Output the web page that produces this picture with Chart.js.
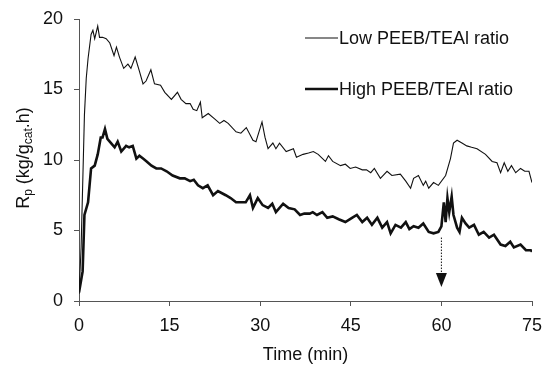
<!DOCTYPE html>
<html>
<head>
<meta charset="utf-8">
<script src="https://cdn.jsdelivr.net/npm/chart.js@4.4.0/dist/chart.umd.min.js"></script>
<style>
  html, body { margin: 0; padding: 0; background: #fff; overflow: hidden; }
  #wrap { width: 543px; height: 366px; }
  canvas { display: block; }
</style>
</head>
<body>
<div id="wrap"><canvas id="rpChart"></canvas></div>
<script>
// time (min) and Rp values
const lowTime = [0, 0.35, 0.9, 1.2, 1.5, 2.0, 2.3, 2.6, 3.1, 3.4, 3.9, 4.5, 5.1, 5.8, 6.2, 6.7, 7.4, 8.1, 8.6, 9.3,
  10.0, 10.6, 11.1, 11.9, 12.5, 13.5, 14.2, 15.3, 16.3, 16.9, 17.7, 18.4, 18.9, 19.5, 20.1, 20.4, 21.4, 22.5, 23.3, 24.0,
  24.7, 26.0, 26.8, 27.7, 28.8, 29.3, 30.3, 30.8, 31.3, 32.1, 32.6, 33.2, 34.3, 35.5, 36.0, 37.1, 38.0, 38.8, 39.6, 40.8,
  41.3, 42.0, 43.3, 44.1, 44.9, 45.8, 46.9, 47.6, 48.3, 48.9, 49.9, 51.0, 51.8, 53.2, 54.1, 54.9, 55.4, 56.2, 57.0, 57.4,
  57.9, 58.7, 59.5, 60.7, 61.5, 62.0, 62.6, 63.4, 64.2, 65.0, 65.9, 67.3, 68.4, 69.2, 69.8, 70.4, 71.0, 71.6, 72.3, 73.1,
  73.8, 74.5, 75.0];
const lowRp = [0.5, 3.8, 13.2, 15.8, 17.2, 18.9, 19.2, 18.6, 19.5, 18.7, 18.7, 18.6, 18.3, 17.4, 18.0, 17.3, 16.5, 16.8, 16.5, 17.3,
  16.3, 15.4, 15.6, 16.4, 15.4, 15.3, 14.8, 14.3, 14.8, 14.3, 14.0, 14.0, 13.6, 13.5, 14.1, 13.0, 13.3, 12.9, 12.6, 12.8,
  12.6, 12.0, 11.9, 12.3, 11.4, 11.3, 12.7, 11.6, 10.8, 11.2, 10.8, 11.2, 10.6, 10.8, 10.2, 10.4, 10.5, 10.6, 10.4, 9.9,
  10.3, 9.9, 9.6, 9.7, 9.4, 9.5, 9.3, 9.3, 9.1, 9.4, 8.7, 9.2, 8.9, 9.0, 8.5, 8.0, 8.7, 8.9, 8.2, 8.5,
  8.0, 8.4, 8.2, 8.9, 10.1, 11.2, 11.4, 11.2, 11.0, 10.9, 10.8, 10.4, 9.9, 9.8, 9.1, 9.8, 9.2, 9.6, 9.1, 9.4,
  9.2, 9.2, 8.4];

const highTime = [0, 0.6, 0.9, 1.5, 2.0, 2.6, 3.1, 3.6, 3.9, 4.3, 4.7, 5.3, 5.9, 6.4, 7.0, 7.8, 8.3, 8.9, 9.5, 10.0,
  10.6, 11.2, 12.0, 12.8, 13.6, 14.5, 15.5, 16.7, 17.5, 18.4, 19.0, 19.7, 20.5, 21.3, 22.2, 23.0, 24.3, 25.1, 26.0, 26.8,
  27.6, 28.3, 28.8, 29.6, 30.4, 31.3, 32.0, 32.6, 33.8, 34.7, 35.7, 36.6, 37.3, 38.2, 38.7, 39.4, 40.3, 41.1, 42.0, 43.0,
  44.1, 45.2, 46.0, 46.9, 47.7, 48.5, 49.4, 50.2, 51.0, 51.6, 52.4, 53.3, 54.1, 54.7, 55.4, 56.2, 57.0, 57.9, 58.7, 59.5,
  60.0, 60.4, 60.7, 61.0, 61.3, 61.7, 62.0, 62.6, 63.0, 63.4, 64.0, 64.6, 65.4, 66.2, 67.0, 67.9, 68.7, 69.8, 70.6, 71.4,
  72.0, 73.1, 74.0, 74.8, 75.0];
const highRp = [0.6, 2.1, 6.1, 7.0, 9.4, 9.6, 10.4, 11.6, 11.6, 12.2, 11.5, 11.2, 10.9, 11.3, 10.6, 11.0, 10.9, 11.0, 10.1, 10.3,
  10.1, 9.9, 9.6, 9.4, 9.4, 9.2, 8.9, 8.7, 8.7, 8.5, 8.6, 8.2, 8.0, 8.2, 7.5, 7.8, 7.5, 7.3, 7.0, 7.0,
  7.0, 7.5, 6.6, 7.3, 6.8, 6.6, 6.9, 6.3, 6.9, 6.6, 6.5, 6.1, 6.2, 6.2, 6.3, 6.1, 6.3, 5.9, 6.0, 5.8,
  5.6, 5.9, 6.1, 5.6, 5.9, 5.4, 5.9, 5.2, 5.6, 4.8, 5.4, 5.2, 5.6, 5.1, 5.3, 5.2, 5.5, 4.9, 4.8, 4.9,
  5.3, 7.0, 5.6, 7.3, 6.3, 7.4, 6.1, 5.2, 4.9, 5.9, 5.5, 5.2, 5.4, 4.7, 4.9, 4.5, 4.7, 4.0, 3.9, 4.2,
  3.8, 4.0, 3.6, 3.6, 3.5];

const xTicks = [0, 15, 30, 45, 60, 75];
const yTicks = [0, 5, 10, 15, 20];

// arrow at the time the ratio was changed: x, top of dotted line, tip
const arrowTime = 60;
const arrowFrom = 4.5;
const arrowTo = 1.0;

const FONT = '"Liberation Sans", Arial, sans-serif';
const INK = '#111';

function toPoints(ts, vs) {
  return ts.map((t, i) => ({ x: t, y: vs[i] }));
}

// y title with subscripts, legend in top right, dotted arrow
const extras = {
  id: 'extras',
  afterDraw(chart) {
    const ctx = chart.ctx;
    const xs = chart.scales.x, ys = chart.scales.y;

    // arrow
    const ax = xs.getPixelForValue(arrowTime);
    const yTop = ys.getPixelForValue(arrowFrom);
    const yTip = ys.getPixelForValue(arrowTo);
    ctx.save();
    ctx.strokeStyle = INK;
    ctx.lineWidth = 1;
    ctx.setLineDash([1.5, 1.5]);
    ctx.beginPath();
    ctx.moveTo(ax, yTop);
    ctx.lineTo(ax, yTip - 12);
    ctx.stroke();
    ctx.setLineDash([]);
    ctx.fillStyle = INK;
    ctx.beginPath();
    ctx.moveTo(ax - 5.5, yTip - 14);
    ctx.lineTo(ax + 5.5, yTip - 14);
    ctx.lineTo(ax, yTip);
    ctx.closePath();
    ctx.fill();
    ctx.restore();

    // y axis title
    const parts = [['R', false], ['p', true], [' (kg/g', false], ['cat', true], ['.h)', false]];
    ctx.save();
    ctx.translate(28.5, (ys.top + ys.bottom) / 2 - 2);
    ctx.rotate(-Math.PI / 2);
    ctx.fillStyle = INK;
    ctx.textBaseline = 'alphabetic';
    let w = 0;
    parts.forEach(([s, sub]) => {
      ctx.font = (sub ? '12px ' : '18px ') + FONT;
      w += ctx.measureText(s).width;
    });
    let cx = -w / 2;
    parts.forEach(([s, sub]) => {
      ctx.font = (sub ? '12px ' : '18px ') + FONT;
      ctx.fillText(s, cx, sub ? 3.5 : 0);
      cx += ctx.measureText(s).width;
    });
    ctx.restore();

    // legend
    ctx.save();
    ctx.font = '18px ' + FONT;
    ctx.fillStyle = INK;
    ctx.textBaseline = 'middle';
    const rows = [38, 89];
    chart.data.datasets.forEach((ds, i) => {
      const y = rows[i];
      ctx.strokeStyle = ds.borderColor;
      ctx.lineWidth = ds.borderWidth;
      ctx.beginPath();
      ctx.moveTo(305, y);
      ctx.lineTo(338, y);
      ctx.stroke();
      ctx.fillText(ds.label, 339, y + 1);
    });
    ctx.restore();
  }
};

new Chart(document.getElementById('rpChart'), {
  type: 'line',
  data: {
    datasets: [
      {
        label: 'Low PEEB/TEAl ratio',
        data: toPoints(lowTime, lowRp),
        borderColor: INK,
        borderWidth: 1.1,
        pointRadius: 0,
        tension: 0
      },
      {
        label: 'High PEEB/TEAl ratio',
        data: toPoints(highTime, highRp),
        borderColor: INK,
        borderWidth: 2.6,
        pointRadius: 0,
        tension: 0
      }
    ]
  },
  options: {
    responsive: true,
    maintainAspectRatio: false,
    animation: false,
    events: [],
    layout: { padding: { left: 0, right: 11, top: 19, bottom: 0 } },
    plugins: { legend: { display: false }, tooltip: { enabled: false } },
    scales: {
      x: {
        type: 'linear',
        min: 0,
        max: 75,
        afterFit(scale) {
          scale.height = 65;
          scale.paddingLeft = 0;
          scale.paddingRight = 0;
        },
        afterBuildTicks(scale) { scale.ticks = xTicks.map(v => ({ value: v })); },
        border: { color: '#555', width: 1 },
        grid: { drawOnChartArea: false, color: '#555', tickLength: 5 },
        ticks: { color: INK, font: { family: FONT, size: 18 }, padding: 9, maxRotation: 0 },
        title: { display: true, text: 'Time (min)', color: INK, font: { family: FONT, size: 18 }, padding: { top: 0, bottom: 0 } }
      },
      y: {
        min: 0,
        max: 20,
        afterFit(scale) {
          scale.width = 79;
          scale.paddingTop = 0;
          scale.paddingBottom = 0;
        },
        afterBuildTicks(scale) { scale.ticks = yTicks.map(v => ({ value: v })); },
        border: { color: '#555', width: 1 },
        grid: { drawOnChartArea: false, color: '#555', tickLength: 5 },
        ticks: { color: INK, font: { family: FONT, size: 18 }, padding: 11 }
      }
    }
  },
  plugins: [extras]
});
</script>
</body>
</html>
